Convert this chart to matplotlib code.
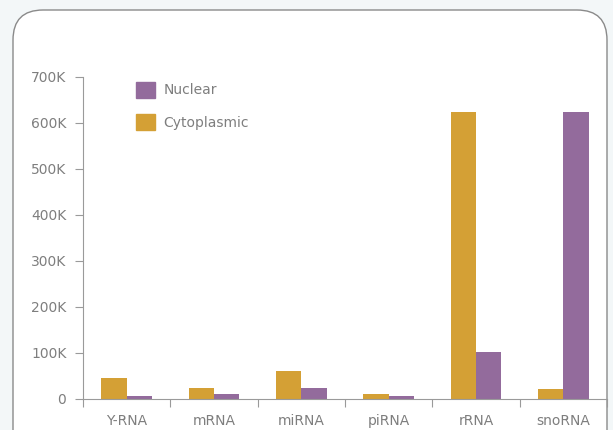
import numpy as np
import matplotlib
matplotlib.use("Agg")
import matplotlib.pyplot as plt
from matplotlib.patches import FancyBboxPatch, Patch
from matplotlib.ticker import FuncFormatter

# data
categories = ["Y-RNA", "mRNA", "miRNA", "piRNA", "rRNA", "snoRNA"]
cytoplasmic = [46000, 24000, 61000, 10000, 625000, 21000]
nuclear = [6000, 10000, 24000, 6000, 102000, 625000]
yticks = [0, 100000, 200000, 300000, 400000, 500000, 600000, 700000]

col_cyto = "#D4A035"
col_nuc = "#936B9C"
grey_txt = "#7e7e7e"
grey_line = "#9a9a9a"

plt.rcParams['font.family'] = ['DejaVu Sans']

fig = plt.figure(figsize=(6.13, 4.30), dpi=100)
fig.patch.set_facecolor("#F3F7F8")

# rounded white card behind the chart
bg = fig.add_axes([0, 0, 1, 1], zorder=-1)
bg.set_xlim(0, 613)
bg.set_ylim(430, 0)
bg.axis("off")
card = FancyBboxPatch((13, 10), 594, 460, boxstyle="round,pad=0,rounding_size=30",
                      facecolor="white", edgecolor="#8a8a8a", linewidth=1.0)
bg.add_patch(card)

ax = fig.add_axes([83 / 613, 31 / 430, 524 / 613, 322 / 430])
ax.patch.set_alpha(0)

x = np.arange(len(categories))
w = 0.29
ax.bar(x - w / 2, cytoplasmic, w, color=col_cyto, label="Cytoplasmic")
ax.bar(x + w / 2, nuclear, w, color=col_nuc, label="Nuclear")

ax.set_xlim(-0.5, len(categories) - 0.5)
ax.set_ylim(0, 700000)

ax.set_yticks(yticks)
ax.yaxis.set_major_formatter(FuncFormatter(lambda v, p: "0" if v == 0 else f"{int(v / 1000)}K"))
ax.tick_params(axis="y", colors=grey_line, labelcolor=grey_txt, labelsize=10, length=6, pad=6)

# ticks at category borders, labels at centres
ax.set_xticks(np.arange(len(categories) + 1) - 0.5)
ax.set_xticklabels([])
ax.set_xticks(x, minor=True)
ax.set_xticklabels(categories, minor=True)
ax.tick_params(axis="x", which="major", colors=grey_line, length=6, direction="out")
ax.tick_params(axis="x", which="minor", length=0, labelcolor=grey_txt, labelsize=10, pad=11)

for s in ["top", "right"]:
    ax.spines[s].set_visible(False)
for s in ["left", "bottom"]:
    ax.spines[s].set_color(grey_line)

handles = [Patch(color=col_nuc, label="Nuclear"), Patch(color=col_cyto, label="Cytoplasmic")]
ax.legend(handles=handles, loc="upper left", bbox_to_anchor=(126 / 613, 1 - 72 / 430),
          bbox_transform=fig.transFigure, frameon=False, fontsize=10,
          handlelength=1.4, handleheight=1.4, labelspacing=1.2, handletextpad=0.6,
          labelcolor=grey_txt, borderpad=0.2)

fig.savefig("out.png", dpi=100, facecolor=fig.get_facecolor())
